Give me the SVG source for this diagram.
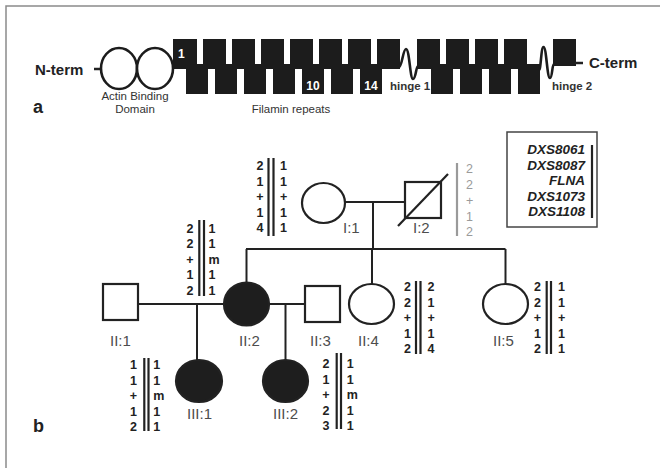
<svg xmlns="http://www.w3.org/2000/svg" width="660" height="468" viewBox="0 0 660 468">
<style>
.t{font-family:"Liberation Sans",Arial,sans-serif}
.b{font-weight:bold}
.lbl{font-family:"Liberation Sans",Arial,sans-serif;font-size:15px;fill:#4d4d4d}
.hap{font-family:"Liberation Sans",Arial,sans-serif;font-size:12.5px;font-weight:bold;fill:#222}
.hl{text-anchor:end}
.gray{font-family:"Liberation Sans",Arial,sans-serif;font-size:12.5px;fill:#9a9a9a}
.bar{stroke:#222;stroke-width:2.2}
.ln{stroke:#222;stroke-width:2;fill:none}
.sh{stroke:#222;stroke-width:2.2;fill:#fff}
.aff{fill:#1e1e1e}
.rep{fill:#1c1c1c}
.wv{stroke:#1c1c1c;stroke-width:2.6;fill:none}
.leg{font-family:"Liberation Sans",Arial,sans-serif;font-size:13.5px;font-weight:bold;font-style:italic;fill:#222;text-anchor:end}
.sm{font-family:"Liberation Sans",Arial,sans-serif;font-size:11.5px;fill:#333}
.num{font-family:"Liberation Sans",Arial,sans-serif;font-size:12px;font-weight:bold;fill:#fff}
</style>
<rect x="6" y="6" width="700" height="500" fill="none" stroke="#8a8a8a" stroke-width="1.5"/>

<g id="protein">
  <text class="t b" x="35" y="75" font-size="15" fill="#222">N-term</text>
  <line x1="94" y1="69" x2="101" y2="69" stroke="#222" stroke-width="2.5"/>
  <ellipse cx="119" cy="68.5" rx="18" ry="20.5" fill="#fff" stroke="#1c1c1c" stroke-width="2.6"/>
  <ellipse cx="155" cy="68.5" rx="18" ry="20.5" fill="#fff" stroke="#1c1c1c" stroke-width="2.6"/>
  <g class="rep">
    <rect x="173" y="39" width="24" height="30"/>
    <rect x="203" y="39" width="23" height="30"/>
    <rect x="232" y="39" width="23" height="30"/>
    <rect x="261" y="39" width="23" height="30"/>
    <rect x="290" y="39" width="23" height="30"/>
    <rect x="319" y="39" width="23" height="30"/>
    <rect x="348" y="39" width="23" height="30"/>
    <rect x="377" y="39" width="23" height="30"/>
    <rect x="186" y="64" width="22" height="30"/>
    <rect x="215" y="64" width="22" height="30"/>
    <rect x="244" y="64" width="22" height="30"/>
    <rect x="273" y="64" width="22" height="30"/>
    <rect x="302" y="64" width="22" height="30"/>
    <rect x="331" y="64" width="22" height="30"/>
    <rect x="360" y="64" width="22" height="30"/>
    <rect x="417" y="39" width="23" height="30"/>
    <rect x="446" y="39" width="23" height="30"/>
    <rect x="475" y="39" width="23" height="30"/>
    <rect x="504" y="39" width="23" height="30"/>
    <rect x="431" y="64" width="22" height="30"/>
    <rect x="460" y="64" width="22" height="30"/>
    <rect x="489" y="64" width="22" height="30"/>
    <rect x="518" y="64" width="22" height="30"/>
    <rect x="553" y="39" width="23" height="27"/>
  </g>
  <path class="wv" d="M399,67 C402,67 403,49 406,49 C409.5,49 410,79 413,79 C416,79 416,66 418,66"/>
  <path class="wv" d="M539,70 C541,70 541,47 543.5,47 C546.5,47 547,78 550,78 C552.5,78 552,64 554,64"/>
  <line x1="575" y1="63" x2="583" y2="63" stroke="#222" stroke-width="2.5"/>
  <text class="t b" x="589" y="68" font-size="15" fill="#222">C-term</text>
  <text class="num" x="178" y="58">1</text>
  <text class="num" x="313" y="90" text-anchor="middle">10</text>
  <text class="num" x="371" y="90" text-anchor="middle">14</text>
  <text class="t b" x="390" y="90" font-size="11.5" fill="#333">hinge 1</text>
  <text class="t b" x="552" y="90" font-size="11.5" fill="#333">hinge 2</text>
  <text class="sm" x="135" y="99.5" text-anchor="middle">Actin Binding</text>
  <text class="sm" x="135" y="113" text-anchor="middle">Domain</text>
  <text class="sm" x="291" y="113" text-anchor="middle">Filamin repeats</text>
  <text class="t b" x="33" y="113" font-size="18" fill="#222">a</text>
</g>

<text class="t b" x="33" y="432" font-size="18" fill="#222">b</text>

<g id="legend">
  <rect x="507" y="132" width="90" height="95" fill="none" stroke="#444" stroke-width="1.5"/>
  <text class="leg" x="585" y="154">DXS8061</text>
  <text class="leg" x="585" y="169.5">DXS8087</text>
  <text class="leg" x="585" y="185">FLNA</text>
  <text class="leg" x="585" y="200.5">DXS1073</text>
  <text class="leg" x="585" y="216">DXS1108</text>
  <line class="bar" x1="592" y1="145" x2="592" y2="218"/>
</g>

<g id="connectors" class="ln">
  <line x1="345" y1="202" x2="405" y2="202"/>
  <line x1="373" y1="202" x2="373" y2="249"/>
  <line x1="246" y1="249" x2="505.5" y2="249"/>
  <line x1="246.5" y1="249" x2="246.5" y2="282"/>
  <line x1="372" y1="249" x2="372" y2="284"/>
  <line x1="505.5" y1="249" x2="505.5" y2="284"/>
  <line x1="138" y1="304" x2="224" y2="304"/>
  <line x1="197" y1="304" x2="197" y2="360"/>
  <line x1="269" y1="304" x2="305" y2="304"/>
  <line x1="285.5" y1="304" x2="285.5" y2="360"/>
</g>

<g id="I1">
  <ellipse class="sh" cx="323.5" cy="203" rx="21.5" ry="20"/>
  <text class="lbl" x="343" y="233">I:1</text>
  <line class="bar" x1="268.5" y1="158" x2="268.5" y2="236"/>
  <line class="bar" x1="273.5" y1="158" x2="273.5" y2="236"/>
  <text class="hap hl"><tspan x="263.5" y="170">2</tspan><tspan x="263.5" y="185.5">1</tspan><tspan x="263.5" y="201">+</tspan><tspan x="263.5" y="216.5">1</tspan><tspan x="263.5" y="232">4</tspan></text>
  <text class="hap"><tspan x="280" y="170">1</tspan><tspan x="280" y="185.5">1</tspan><tspan x="280" y="201">+</tspan><tspan x="280" y="216.5">1</tspan><tspan x="280" y="232">1</tspan></text>
</g>

<g id="I2">
  <rect class="sh" x="405" y="182" width="36" height="36"/>
  <line x1="398" y1="226" x2="448" y2="174" stroke="#222" stroke-width="2.2"/>
  <text class="lbl" x="413" y="233">I:2</text>
  <line x1="457" y1="163" x2="457" y2="236" stroke="#9a9a9a" stroke-width="2.2"/>
  <text class="gray"><tspan x="466" y="172.5">2</tspan><tspan x="466" y="188.5">2</tspan><tspan x="466" y="204.5">+</tspan><tspan x="466" y="220.5">1</tspan><tspan x="466" y="236">2</tspan></text>
</g>

<g id="II1">
  <rect class="sh" x="103" y="284" width="35" height="36"/>
  <text class="lbl" x="110" y="346">II:1</text>
</g>

<g id="II2">
  <ellipse class="sh aff" cx="246.5" cy="304" rx="22.5" ry="21.5"/>
  <text class="lbl" x="239" y="346">II:2</text>
  <line class="bar" x1="199.3" y1="220" x2="199.3" y2="296"/>
  <line class="bar" x1="204" y1="220" x2="204" y2="296"/>
  <text class="hap hl"><tspan x="193.5" y="232.5">2</tspan><tspan x="193.5" y="248">2</tspan><tspan x="193.5" y="263.5">+</tspan><tspan x="193.5" y="279">1</tspan><tspan x="193.5" y="294.5">2</tspan></text>
  <text class="hap"><tspan x="208.5" y="232.5">1</tspan><tspan x="208.5" y="248">1</tspan><tspan x="208.5" y="263.5">m</tspan><tspan x="208.5" y="279">1</tspan><tspan x="208.5" y="294.5">1</tspan></text>
</g>

<g id="II3">
  <rect class="sh" x="305" y="286" width="35" height="36"/>
  <text class="lbl" x="310" y="346">II:3</text>
</g>

<g id="II4">
  <ellipse class="sh" cx="371.5" cy="304" rx="22.5" ry="20"/>
  <text class="lbl" x="358" y="346">II:4</text>
  <line class="bar" x1="416" y1="281" x2="416" y2="354"/>
  <line class="bar" x1="420.5" y1="281" x2="420.5" y2="354"/>
  <text class="hap hl"><tspan x="411" y="291">2</tspan><tspan x="411" y="306.5">2</tspan><tspan x="411" y="322">+</tspan><tspan x="411" y="337.5">1</tspan><tspan x="411" y="353">2</tspan></text>
  <text class="hap"><tspan x="427.5" y="291">2</tspan><tspan x="427.5" y="306.5">1</tspan><tspan x="427.5" y="322">+</tspan><tspan x="427.5" y="337.5">1</tspan><tspan x="427.5" y="353">4</tspan></text>
</g>

<g id="II5">
  <ellipse class="sh" cx="505.5" cy="304" rx="22.5" ry="20"/>
  <text class="lbl" x="493" y="346">II:5</text>
  <line class="bar" x1="546.7" y1="281" x2="546.7" y2="354"/>
  <line class="bar" x1="551" y1="281" x2="551" y2="354"/>
  <text class="hap hl"><tspan x="541" y="291">2</tspan><tspan x="541" y="306.5">2</tspan><tspan x="541" y="322">+</tspan><tspan x="541" y="337.5">1</tspan><tspan x="541" y="353">2</tspan></text>
  <text class="hap"><tspan x="558" y="291">1</tspan><tspan x="558" y="306.5">1</tspan><tspan x="558" y="322">+</tspan><tspan x="558" y="337.5">1</tspan><tspan x="558" y="353">1</tspan></text>
</g>

<g id="III1">
  <ellipse class="sh aff" cx="199" cy="381" rx="23" ry="21"/>
  <text class="lbl" x="187" y="419">III:1</text>
  <line class="bar" x1="144.3" y1="358" x2="144.3" y2="431"/>
  <line class="bar" x1="148.5" y1="358" x2="148.5" y2="431"/>
  <text class="hap hl"><tspan x="137" y="369">1</tspan><tspan x="137" y="384.5">1</tspan><tspan x="137" y="400">+</tspan><tspan x="137" y="415.5">1</tspan><tspan x="137" y="431">2</tspan></text>
  <text class="hap"><tspan x="153.3" y="369">1</tspan><tspan x="153.3" y="384.5">1</tspan><tspan x="153.3" y="400">m</tspan><tspan x="153.3" y="415.5">1</tspan><tspan x="153.3" y="431">1</tspan></text>
</g>

<g id="III2">
  <ellipse class="sh aff" cx="285.5" cy="381" rx="22.5" ry="21"/>
  <text class="lbl" x="273" y="419">III:2</text>
  <line class="bar" x1="336.7" y1="353" x2="336.7" y2="429"/>
  <line class="bar" x1="341" y1="353" x2="341" y2="429"/>
  <text class="hap hl"><tspan x="329.5" y="368">2</tspan><tspan x="329.5" y="383.5">1</tspan><tspan x="329.5" y="399">+</tspan><tspan x="329.5" y="414.5">2</tspan><tspan x="329.5" y="430">3</tspan></text>
  <text class="hap"><tspan x="346.7" y="368">1</tspan><tspan x="346.7" y="383.5">1</tspan><tspan x="346.7" y="399">m</tspan><tspan x="346.7" y="414.5">1</tspan><tspan x="346.7" y="430">1</tspan></text>
</g>
</svg>
